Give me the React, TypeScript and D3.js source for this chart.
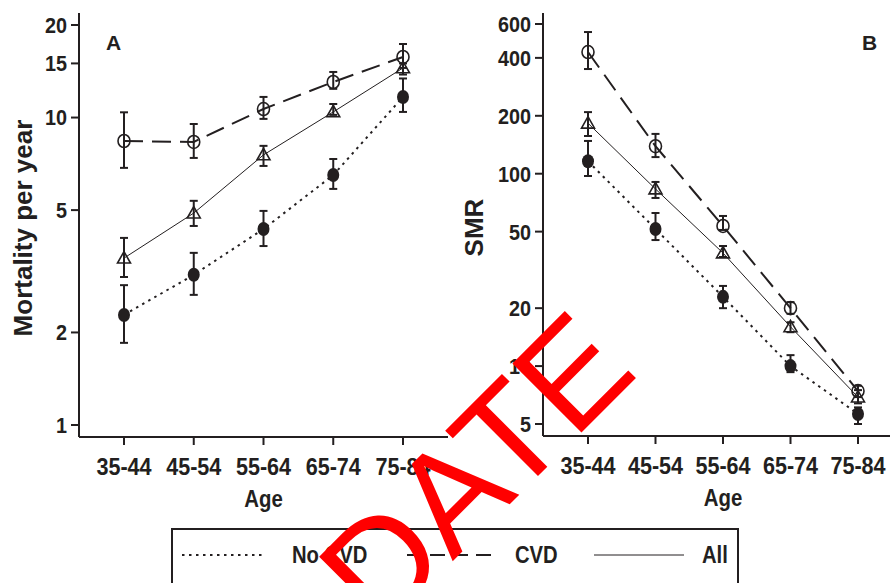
import React from 'react'
import { scaleLog, scalePoint, line } from 'd3'

// age groups on the x axis
const ages = ['35-44', '45-54', '55-64', '65-74', '75-84']

// panel A: mortality per year
const mortNoCvd = [2.28, 3.08, 4.34, 6.5, 11.67]
const mortNoCvdLo = [1.85, 2.65, 3.82, 5.86, 10.43]
const mortNoCvdHi = [2.85, 3.63, 4.97, 7.33, 13.4]
const mortCvd = [8.39, 8.33, 10.66, 13.05, 15.74]
const mortCvdLo = [6.86, 7.39, 9.9, 12.4, 14.5]
const mortCvdHi = [10.4, 9.53, 11.67, 14.07, 17.35]
const mortAll = [3.49, 4.89, 7.56, 10.43, 14.5]
const mortAllLo = [3.03, 4.44, 6.96, 10.2, 13.8]
const mortAllHi = [4.06, 5.36, 8.09, 11.07, 15.0]
const mortTicks = [1, 2, 5, 10, 15, 20]

// panel B: SMR
const smrNoCvd = [116, 51.6, 22.9, 10.0, 5.64]
const smrNoCvdLo = [97.3, 45.2, 20.0, 9.3, 5.0]
const smrNoCvdHi = [148, 62.5, 26.1, 11.4, 6.1]
const smrCvd = [429, 139, 53.5, 20.0, 7.42]
const smrCvdLo = [350, 122, 51, 18.7, 6.9]
const smrCvdHi = [545, 161, 60.3, 21.5, 7.9]
const smrAll = [183, 83.3, 38.7, 16.0, 6.9]
const smrAllLo = [157, 74.8, 36.9, 15.0, 6.4]
const smrAllHi = [209, 90.6, 42.1, 16.9, 7.5]
const smrTicks = [5, 10, 20, 50, 100, 200, 400, 600]

const legendLabels = ['No CVD', 'CVD', 'All']

const ink = '#231f20'
const font = '"Liberation Sans", Arial, sans-serif'

const styles = {
  noCvd: { dash: '2.5,4.5', width: 2 },
  cvd: { dash: '19,9', width: 2 },
  all: { dash: null, width: 1 },
}

// narrow bold text (the original uses a condensed face)
function NText({ x, y, size, squeeze = 0.9, anchor = 'start', dy = null, children }) {
  return (
    <g transform={`translate(${x},${y}) scale(${squeeze},1)`}>
      <text textAnchor={anchor} dy={dy || undefined} fontSize={size} fontWeight="bold" fill={ink}>
        {children}
      </text>
    </g>
  )
}

function Marker({ kind, x, y }) {
  if (kind === 'noCvd') return <ellipse cx={x} cy={y} rx={6} ry={7} fill={ink} />
  if (kind === 'cvd')
    return <ellipse cx={x} cy={y} rx={6} ry={6.5} fill="none" stroke={ink} strokeWidth={1.6} />
  const s = 6.5
  return (
    <path
      d={`M${x},${y - s}L${x + s},${y + s * 0.75}L${x - s},${y + s * 0.75}Z`}
      fill="none"
      stroke={ink}
      strokeWidth={1.6}
    />
  )
}

function Panel({ left, right, top, bottom, ptLeft, ptRight, yDomain, yRange, ticks, series, title, letter, letterX, titleX }) {
  const x = scalePoint().domain(ages).range([ptLeft, ptRight])
  const y = scaleLog().domain(yDomain).range(yRange)
  const gen = line()
    .x((d, i) => x(ages[i]))
    .y((d) => y(d))
  return (
    <g>
      {/* axes */}
      <line x1={left} x2={left} y1={top} y2={bottom} stroke={ink} strokeWidth={2} />
      <line x1={left} x2={right} y1={bottom} y2={bottom} stroke={ink} strokeWidth={2} />
      {ticks.map((t) => (
        <g key={t}>
          <line x1={left - 8} x2={left} y1={y(t)} y2={y(t)} stroke={ink} strokeWidth={2} />
          <NText x={left - 12} y={y(t)} dy="0.36em" anchor="end" size={22}>
            {t}
          </NText>
        </g>
      ))}
      {ages.map((a) => (
        <g key={a}>
          <line x1={x(a)} x2={x(a)} y1={bottom} y2={bottom + 8} stroke={ink} strokeWidth={2} />
          <NText x={x(a)} y={bottom + 38} anchor="middle" size={24}>
            {a}
          </NText>
        </g>
      ))}
      <NText x={x('55-64')} y={bottom + 70} anchor="middle" size={24} squeeze={0.85}>
        Age
      </NText>
      <text
        transform={`translate(${titleX},${(top + bottom) / 2 + 3}) rotate(-90)`}
        textAnchor="middle"
        fontSize={26}
        fontWeight="bold"
        fill={ink}
      >
        {title}
      </text>
      <text x={letterX} y={50} fontSize={21} fontWeight="bold" fill={ink}>
        {letter}
      </text>

      {/* series */}
      {series.map((s) => (
        <g key={s.kind}>
          <path
            d={gen(s.values)}
            fill="none"
            stroke={ink}
            strokeWidth={styles[s.kind].width}
            strokeDasharray={styles[s.kind].dash || undefined}
          />
          {s.values.map((v, i) => (
            <g key={i} stroke={ink} strokeWidth={2}>
              <line x1={x(ages[i])} x2={x(ages[i])} y1={y(s.lo[i])} y2={y(s.hi[i])} />
              <line x1={x(ages[i]) - 4} x2={x(ages[i]) + 4} y1={y(s.lo[i])} y2={y(s.lo[i])} />
              <line x1={x(ages[i]) - 4} x2={x(ages[i]) + 4} y1={y(s.hi[i])} y2={y(s.hi[i])} />
            </g>
          ))}
          {s.values.map((v, i) => (
            <Marker key={'m' + i} kind={s.kind} x={x(ages[i])} y={y(v)} />
          ))}
        </g>
      ))}
    </g>
  )
}

export default function App() {
  const W = 893
  const H = 583
  const mortSeries = [
    { kind: 'noCvd', values: mortNoCvd, lo: mortNoCvdLo, hi: mortNoCvdHi },
    { kind: 'cvd', values: mortCvd, lo: mortCvdLo, hi: mortCvdHi },
    { kind: 'all', values: mortAll, lo: mortAllLo, hi: mortAllHi },
  ]
  const smrSeries = [
    { kind: 'noCvd', values: smrNoCvd, lo: smrNoCvdLo, hi: smrNoCvdHi },
    { kind: 'cvd', values: smrCvd, lo: smrCvdLo, hi: smrCvdHi },
    { kind: 'all', values: smrAll, lo: smrAllLo, hi: smrAllHi },
  ]
  const legendY = 555
  return (
    <svg
      width={W}
      height={H}
      style={{ position: 'absolute', left: 0, top: 0, background: '#fff' }}
      fontFamily={font}
    >
      <rect width={W} height={H} fill="#fff" />
      <Panel
        left={79}
        right={448}
        top={13}
        bottom={437}
        ptLeft={124}
        ptRight={403}
        yDomain={[1, 20]}
        yRange={[425, 25]}
        ticks={mortTicks}
        series={mortSeries}
        title="Mortality per year"
        letter="A"
        letterX={106}
        titleX={32}
      />
      <Panel
        left={543}
        right={890}
        top={13}
        bottom={436}
        ptLeft={588}
        ptRight={858}
        yDomain={[5, 600]}
        yRange={[424, 24]}
        ticks={smrTicks}
        series={smrSeries}
        title="SMR"
        letter="B"
        letterX={862}
        titleX={483}
      />

      {/* legend */}
      <rect x={172} y={529} width={566} height={70} fill="none" stroke={ink} strokeWidth={2} />
      <line x1={182} x2={266} y1={legendY} y2={legendY} stroke={ink} strokeWidth={2} strokeDasharray="2.5,4.5" />
      <NText x={292} y={legendY} dy="0.36em" size={23} squeeze={0.88}>{legendLabels[0]}</NText>
      <line x1={407} x2={495} y1={legendY} y2={legendY} stroke={ink} strokeWidth={2} strokeDasharray="15,8" />
      <NText x={515} y={legendY} dy="0.36em" size={23} squeeze={0.88}>{legendLabels[1]}</NText>
      <line x1={594} x2={684} y1={legendY} y2={legendY} stroke={ink} strokeWidth={1} />
      <NText x={702} y={legendY} dy="0.36em" size={23} squeeze={0.88}>{legendLabels[2]}</NText>

      {/* stamp */}
      <text transform="translate(380,634) rotate(-45)" fontSize={142} fill="#ff0000" fontFamily={font}>
        DATE
      </text>
    </svg>
  )
}
